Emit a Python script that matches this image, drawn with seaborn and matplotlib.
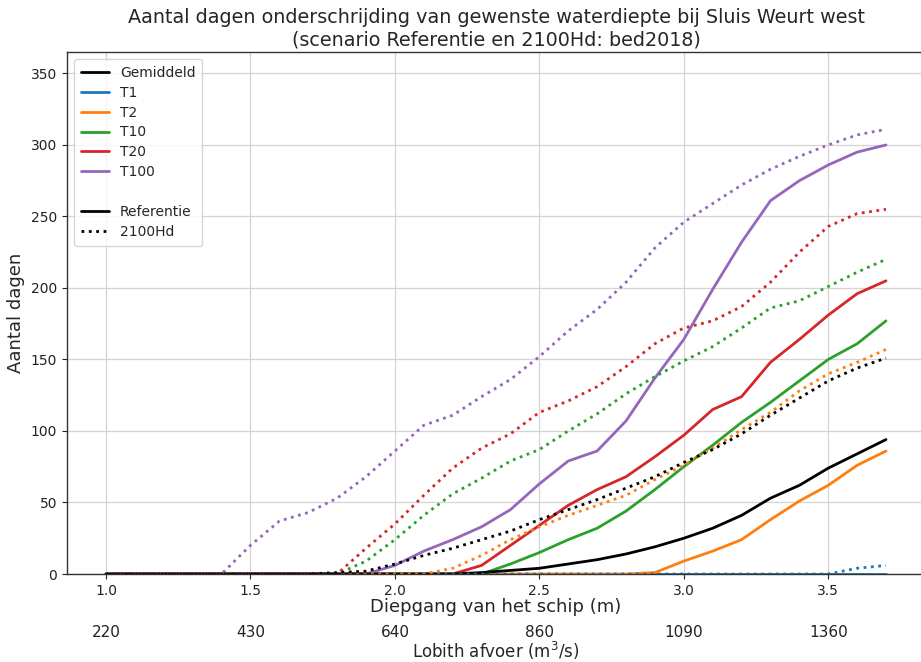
import matplotlib
matplotlib.use("Agg")
import matplotlib.pyplot as plt
from matplotlib.lines import Line2D
import seaborn as sns
import pandas as pd

# Diepgang van het schip (m)
diepgang = [1.0, 1.1, 1.2, 1.3, 1.4, 1.5, 1.6, 1.7, 1.8, 1.9,
            2.0, 2.1, 2.2, 2.3, 2.4, 2.5, 2.6, 2.7, 2.8, 2.9,
            3.0, 3.1, 3.2, 3.3, 3.4, 3.5, 3.6, 3.7]

# Scenario Referentie
ref_gem = [0, 0, 0, 0, 0, 0, 0, 0, 0, 0, 0, 0, 0, 1, 2.5, 4, 7, 10, 14, 19,
           25, 32, 41, 53, 62, 74, 84, 94]
ref_t1 = [0] * 28
ref_t2 = [0, 0, 0, 0, 0, 0, 0, 0, 0, 0, 0, 0, 0, 0, 0, 0, 0, 0, 0, 1,
          9, 16, 24, 38, 51, 62, 76, 86]
ref_t10 = [0, 0, 0, 0, 0, 0, 0, 0, 0, 0, 0, 0, 0, 0, 7, 15, 24, 32, 44, 59,
           75, 90, 106, 120, 135, 150, 161, 177]
ref_t20 = [0, 0, 0, 0, 0, 0, 0, 0, 0, 0, 0, 0, 0, 6, 20, 34, 48, 59, 68, 82,
           97, 115, 124, 148, 164, 181, 196, 205]
ref_t100 = [0, 0, 0, 0, 0, 0, 0, 0, 0, 0, 6, 16, 24, 33, 45, 63, 79, 86, 107, 137,
            164, 199, 232, 261, 275, 286, 295, 300]

# Scenario 2100Hd
hd_gem = [0, 0, 0, 0, 0, 0, 0, 0, 1, 2, 7, 13, 18, 24, 30, 38, 45, 52, 60, 68,
          78, 87, 98, 111, 123, 135, 144, 151]
hd_t1 = [0, 0, 0, 0, 0, 0, 0, 0, 0, 0, 0, 0, 0, 0, 0, 0, 0, 0, 0, 0,
         0, 0, 0, 0, 0, 0, 4, 6]
hd_t2 = [0, 0, 0, 0, 0, 0, 0, 0, 0, 0, 0, 0, 4, 13, 24, 33, 41, 48, 55, 66,
         76, 88, 101, 113, 128, 140, 148, 157]
hd_t10 = [0, 0, 0, 0, 0, 0, 0, 0, 0, 9, 24, 41, 56, 67, 79, 87, 100, 112, 126, 138,
          149, 159, 172, 186, 191, 201, 211, 220]
hd_t20 = [0, 0, 0, 0, 0, 0, 0, 0, 0, 18, 35, 55, 74, 88, 98, 113, 121, 131, 145, 161,
          172, 177, 187, 204, 225, 243, 252, 255]
hd_t100 = [0, 0, 0, 0, 0, 20, 37, 43, 53, 68, 86, 104, 111, 124, 136, 152, 170, 185, 204, 228,
           246, 259, 272, 283, 292, 300, 307, 311]

# Lobith afvoer (m3/s) bij de diepgang-ticks
diepgang_ticks = [1.0, 1.5, 2.0, 2.5, 3.0, 3.5]
afvoer_labels = ["220", "430", "640", "860", "1090", "1360"]

reeksen = ["Gemiddeld", "T1", "T2", "T10", "T20", "T100"]
kleuren = {"Gemiddeld": "black", "T1": "#1f77b4", "T2": "#ff7f0e",
           "T10": "#2ca02c", "T20": "#d62728", "T100": "#9467bd"}
scenarios = {"Referentie": dict(zip(reeksen, [ref_gem, ref_t1, ref_t2, ref_t10, ref_t20, ref_t100])),
             "2100Hd": dict(zip(reeksen, [hd_gem, hd_t1, hd_t2, hd_t10, hd_t20, hd_t100]))}
lijnstijl = {"Referentie": "-", "2100Hd": ":"}

sns.set_style("ticks")
plt.rcParams["font.family"] = ["DejaVu Sans"]

fig = plt.figure(figsize=(9.21, 6.62), dpi=100)
ax = fig.add_axes([67 / 921, 88 / 662, 858 / 921, 522 / 662])

for scen, data in scenarios.items():
    for naam in ["T1", "T2", "T10", "T20", "T100", "Gemiddeld"]:
        df = pd.DataFrame({"diepgang": diepgang, "dagen": data[naam]})
        sns.lineplot(data=df, x="diepgang", y="dagen", ax=ax, color=kleuren[naam],
                     linestyle=lijnstijl[scen], linewidth=2, legend=False)

ax.set_xlim(0.865, 3.835)
ax.set_ylim(0, 365)
ax.set_xticks(diepgang_ticks)
ax.set_xticklabels([f"{t:.1f}" for t in diepgang_ticks])
ax.set_yticks(range(0, 351, 50))
ax.tick_params(labelsize=10, colors="#222222")
ax.grid(True, color="#d4d4d4", linewidth=0.9)
for s in ax.spines.values():
    s.set_color("#333333")
    s.set_linewidth(1.0)
ax.set_xlabel("Diepgang van het schip (m)", fontsize=13, labelpad=0)
ax.set_ylabel("Aantal dagen", fontsize=13)
ax.set_title("Aantal dagen onderschrijding van gewenste waterdiepte bij Sluis Weurt west\n"
             "(scenario Referentie en 2100Hd: bed2018)", fontsize=13.8, pad=5)

# Tweede x-as met de bijbehorende Lobith-afvoer
ax2 = ax.twiny()
ax2.set_xlim(ax.get_xlim())
ax2.xaxis.set_ticks_position("bottom")
ax2.xaxis.set_label_position("bottom")
ax2.spines["bottom"].set_position(("outward", 34))
for s in ax2.spines.values():
    s.set_visible(False)
ax2.set_xticks(diepgang_ticks)
ax2.set_xticklabels(afvoer_labels)
ax2.tick_params(axis="x", length=0, pad=3, labelsize=11, colors="#222222")
ax2.set_xlabel("Lobith afvoer (m$^3$/s)", fontsize=12, labelpad=0)

handles = [Line2D([], [], color=kleuren[n], lw=2) for n in reeksen]
labels = list(reeksen)
handles.append(Line2D([], [], color="none"))
labels.append("")
handles.append(Line2D([], [], color="black", lw=2, ls="-"))
labels.append("Referentie")
handles.append(Line2D([], [], color="black", lw=2, ls=":"))
labels.append("2100Hd")
ax.legend(handles, labels, loc="upper left", fontsize=10, framealpha=0.8,
          labelspacing=0.42, borderpad=0.5)

fig.savefig("out.png", dpi=100)
